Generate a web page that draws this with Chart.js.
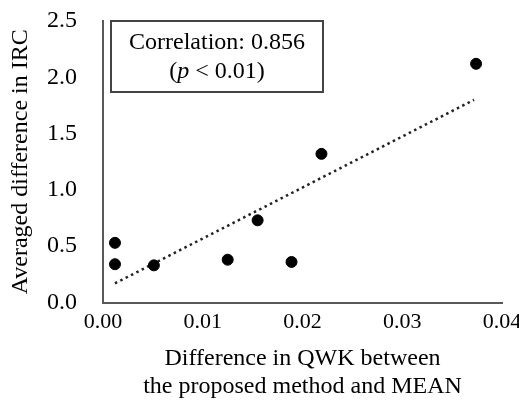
<!DOCTYPE html>
<html>
<head>
<meta charset="utf-8">
<script src="https://cdn.jsdelivr.net/npm/chart.js@4"></script>
<style>
  body { margin: 0; background: #fff; }
  canvas { display: block; }
</style>
</head>
<body>
<canvas id="myChart" width="519" height="408"></canvas>
<script>
// scatter points
const qwkDiff = [0.0012, 0.0012, 0.0051, 0.0125, 0.0155, 0.0189, 0.0219, 0.0374];
const ircDiff = [0.53, 0.34, 0.33, 0.38, 0.73, 0.36, 1.32, 2.12];
// end points of the dotted linear trend line
const trendX = [0.0012, 0.0372];
const trendY = [0.17, 1.80];
const corrLabel = 'Correlation: 0.856';
const pLabel = ['(', 'p', ' < 0.01)'];

const serif = "'Liberation Serif', 'Times New Roman', serif";

const corrBox = {
    id: 'corrBox',
    afterDraw(chart) {
        const { ctx, chartArea } = chart;
        const left = chartArea.left + 8, top = chartArea.top, w = 212, h = 71;
        ctx.save();
        ctx.strokeStyle = '#444';
        ctx.lineWidth = 2;
        ctx.strokeRect(left, top, w, h);
        ctx.fillStyle = '#000';
        ctx.textBaseline = 'middle';
        ctx.textAlign = 'center';
        ctx.font = '24px ' + serif;
        const cx = left + w / 2;
        ctx.fillText(corrLabel, cx, top + 22);
        // second line, the p is italic
        const fonts = ['24px ' + serif, 'italic 24px ' + serif, '24px ' + serif];
        const widths = pLabel.map((t, i) => { ctx.font = fonts[i]; return ctx.measureText(t).width; });
        let x = cx - widths.reduce((a, b) => a + b, 0) / 2;
        ctx.textAlign = 'left';
        pLabel.forEach((t, i) => {
            ctx.font = fonts[i];
            ctx.fillText(t, x, top + 51);
            x += widths[i];
        });
        ctx.restore();
    }
};

const ctx = document.getElementById('myChart').getContext('2d');
new Chart(ctx, {
    type: 'scatter',
    data: {
        datasets: [
            {
                label: 'IRC',
                data: qwkDiff.map((v, i) => ({ x: v, y: ircDiff[i] })),
                pointRadius: 5.5,
                pointBackgroundColor: '#000',
                pointBorderColor: '#000',
                pointBorderWidth: 1
            },
            {
                label: 'Trend',
                data: trendX.map((v, i) => ({ x: v, y: trendY[i] })),
                showLine: true,
                borderColor: '#222',
                borderWidth: 2.5,
                borderDash: [2.5, 3.5],
                pointRadius: 0
            }
        ]
    },
    options: {
        responsive: false,
        animation: false,
        layout: { padding: { left: 2, top: 0, right: 0, bottom: 2 } },
        plugins: {
            legend: { display: false },
            tooltip: { enabled: false }
        },
        scales: {
            x: {
                type: 'linear',
                min: 0,
                max: 0.04,
                grid: { display: false, drawTicks: false },
                border: { display: true, color: '#595959', width: 2 },
                ticks: {
                    stepSize: 0.01,
                    padding: 7,
                    color: '#000',
                    font: { family: serif, size: 22 },
                    callback: v => v.toFixed(2)
                },
                title: {
                    display: true,
                    text: ['Difference in QWK between', 'the proposed method and MEAN'],
                    color: '#000',
                    font: { family: serif, size: 24, lineHeight: 1.17 },
                    padding: { top: 4, bottom: 5 }
                },
                afterFit(scale) {
                    scale.height = 103.5;
                    scale.paddingLeft = 0;
                    scale.paddingRight = 17;
                }
            },
            y: {
                min: 0,
                max: 2.5,
                grid: { display: false, drawTicks: false },
                border: { display: true, color: '#595959', width: 2 },
                ticks: {
                    stepSize: 0.5,
                    padding: 26,
                    color: '#000',
                    font: { family: serif, size: 24 },
                    callback: v => v.toFixed(1)
                },
                title: {
                    display: true,
                    text: 'Averaged difference in IRC',
                    color: '#000',
                    font: { family: serif, size: 24 },
                    padding: { top: 4, bottom: 4 }
                },
                afterFit(scale) {
                    scale.width = 101;
                    scale.paddingTop = 21;
                    scale.paddingBottom = 0;
                }
            }
        }
    },
    plugins: [corrBox]
});
</script>
</body>
</html>
